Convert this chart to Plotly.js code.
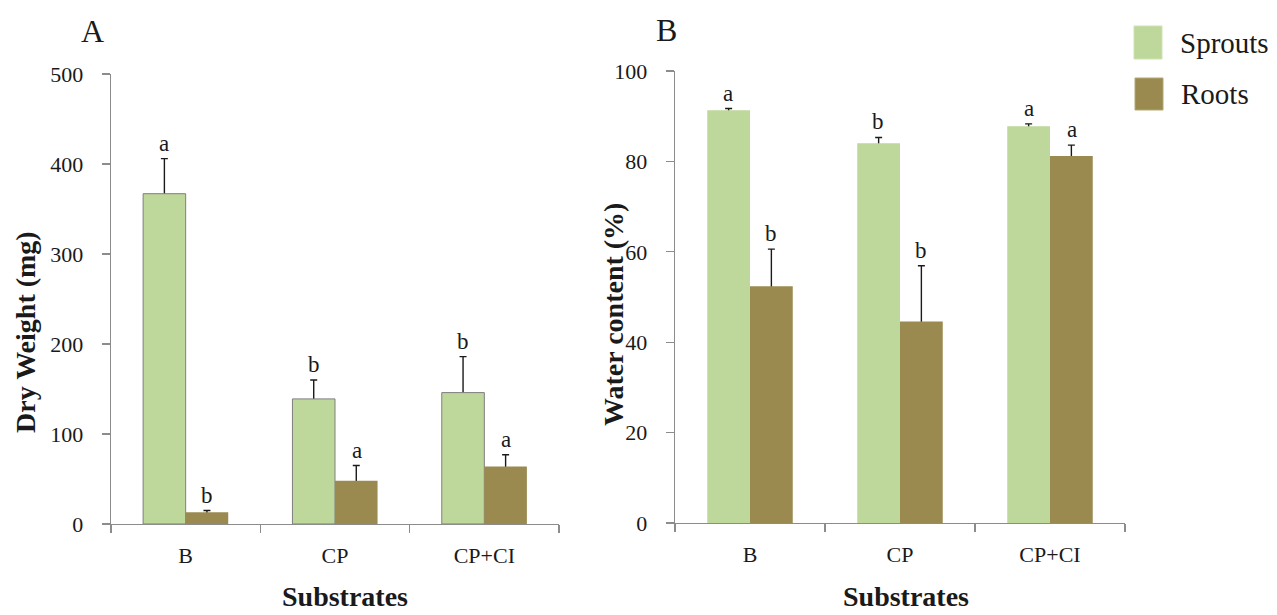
<!DOCTYPE html>
<html>
<head>
<meta charset="utf-8">
<script src="https://cdn.plot.ly/plotly-3.0.1.min.js"></script>
<style>html,body{margin:0;padding:0;background:#fff;}#chart{width:1277px;height:615px;}</style>
</head>
<body>
<div id="chart"></div>
<script>
// ---- data ----
const categories = ["B", "CP", "CP+CI"];
const seriesNames = ["Sprouts", "Roots"];

// Panel A: Dry weight (mg)
const dryWeightSprouts = [367, 139, 146];
const dryWeightSproutsErr = [39, 21, 40];
const dryWeightRoots = [13, 48, 64];
const dryWeightRootsErr = [2, 17, 13];
const dryWeightSproutsLetters = ["a", "b", "b"];
const dryWeightRootsLetters = ["b", "a", "a"];

// Panel B: Water content (%)
const waterSprouts = [91.3, 84.0, 87.8];
const waterSproutsErr = [0.4, 1.3, 0.5];
const waterRoots = [52.4, 44.6, 81.2];
const waterRootsErr = [8.2, 12.3, 2.4];
const waterSproutsLetters = ["a", "b", "a"];
const waterRootsLetters = ["b", "b", "a"];

const yTicksA = [0, 100, 200, 300, 400, 500];
const yTicksB = [0, 20, 40, 60, 80, 100];

// ---- styles ----
const W = 1277, H = 615;
const FONT = "Liberation Serif, Times New Roman, serif";
const cSprouts = "#BED79A";
const cRoots = "#9A8A4F";
const axisGrey = "#8c8c8c";
const txt = "#1a1a1a";

function px(x) { return x / W; }
function py(y) { return 1 - y / H; }

// Bar drawn on top of an (invisible) bar that carries the upward error bar;
// the error bar's lower cap is hidden inside the real bar.
function errTrace(y, err, xa, ya, group, hide) {
  return {
    type: "bar", x: categories, y: y.map(v => v - hide), xaxis: xa, yaxis: ya,
    offsetgroup: group,
    marker: { color: "rgba(0,0,0,0)", line: { width: 0 } },
    error_y: { type: "data", symmetric: false, array: err.map(e => e + hide), arrayminus: err.map(() => 0),
               color: "#1a1a1a", thickness: 1.4, width: 3.5 },
    showlegend: false, hoverinfo: "skip"
  };
}
function bar(name, y, color, xa, ya, group, outline) {
  return {
    type: "bar", name: name, x: categories, y: y, xaxis: xa, yaxis: ya,
    offsetgroup: group,
    marker: { color: color, line: { color: outline ? "#7f7f7f" : color, width: outline ? 1 : 0 } },
    showlegend: false, hoverinfo: "x+y"
  };
}

const data = [
  errTrace(dryWeightSprouts, dryWeightSproutsErr, "x", "y", "s", 4),
  errTrace(dryWeightRoots, dryWeightRootsErr, "x", "y", "r", 4),
  errTrace(waterSprouts, waterSproutsErr, "x2", "y2", "s", 1.5),
  errTrace(waterRoots, waterRootsErr, "x2", "y2", "r", 1.5),
  bar(seriesNames[0], dryWeightSprouts, cSprouts, "x", "y", "s", true),
  bar(seriesNames[1], dryWeightRoots, cRoots, "x", "y", "r", false),
  bar(seriesNames[0], waterSprouts, cSprouts, "x2", "y2", "s", false),
  bar(seriesNames[1], waterRoots, cRoots, "x2", "y2", "r", false)
];

const annotations = [];
function letters(vals, errs, lets, xref, yref, shift) {
  vals.forEach((v, i) => {
    annotations.push({
      x: categories[i], y: v + errs[i], xref: xref, yref: yref,
      xshift: shift, yshift: 1, yanchor: "bottom", xanchor: "center",
      text: lets[i], showarrow: false, font: { family: FONT, size: 23, color: txt }
    });
  });
}
letters(dryWeightSprouts, dryWeightSproutsErr, dryWeightSproutsLetters, "x", "y", -21.5);
letters(dryWeightRoots, dryWeightRootsErr, dryWeightRootsLetters, "x", "y", 21.5);
letters(waterSprouts, waterSproutsErr, waterSproutsLetters, "x2", "y2", -21.5);
letters(waterRoots, waterRootsErr, waterRootsLetters, "x2", "y2", 21.5);

function paperText(text, x, y, size, angle) {
  annotations.push({
    xref: "paper", yref: "paper", x: px(x), y: py(y), xanchor: "center", yanchor: "middle",
    text: text, showarrow: false, textangle: angle || 0,
    font: { family: FONT, size: size, color: txt }
  });
}
// panel letters
paperText("A", 92.5, 31, 32);
paperText("B", 667, 30, 32);
// axis titles
paperText("<b>Dry Weight (mg)</b>", 25, 332, 28, -90);
paperText("<b>Water content (%)</b>", 613, 315, 28, -90);
paperText("<b>Substrates</b>", 344.5, 596, 28);
paperText("<b>Substrates</b>", 906, 596, 28);
// legend labels
annotations.push({ xref: "paper", yref: "paper", x: px(1178), y: py(43), xanchor: "left", yanchor: "middle",
  text: seriesNames[0], showarrow: false, font: { family: FONT, size: 29, color: txt } });
annotations.push({ xref: "paper", yref: "paper", x: px(1179), y: py(94), xanchor: "left", yanchor: "middle",
  text: seriesNames[1], showarrow: false, font: { family: FONT, size: 29, color: txt } });

const shapes = [
  { type: "rect", xref: "paper", yref: "paper", x0: px(1134), x1: px(1162), y0: py(59), y1: py(26),
    fillcolor: cSprouts, line: { color: "#cfe3b3", width: 1 } },
  { type: "rect", xref: "paper", yref: "paper", x0: px(1135), x1: px(1163), y0: py(110), y1: py(78),
    fillcolor: cRoots, line: { color: "#b3a776", width: 1 } }
];

function xAxis(d0, d1) {
  return {
    domain: [px(d0), px(d1)], type: "category", range: [-0.5, 2.5],
    showline: true, linecolor: axisGrey, linewidth: 1.3,
    ticks: "outside", tickson: "boundaries", ticklen: 8, tickcolor: axisGrey, tickwidth: 1.3,
    showgrid: false, zeroline: false, fixedrange: true,
    tickfont: { family: FONT, size: 22, color: txt }, ticklabelstandoff: 11
  };
}
function yAxis(d0, d1, range, ticks, anchor) {
  return {
    domain: [py(d0), py(d1)], range: range, tickvals: ticks, ticktext: ticks.map(String),
    showline: true, linecolor: axisGrey, linewidth: 1.3,
    ticks: "outside", ticklen: 8, tickcolor: axisGrey, tickwidth: 1.3,
    showgrid: false, zeroline: false, fixedrange: true, anchor: anchor,
    tickfont: { family: FONT, size: 22, color: txt }, ticklabelstandoff: 14
  };
}

const layout = {
  width: W, height: H,
  margin: { l: 0, r: 0, t: 0, b: 0, pad: 0 },
  paper_bgcolor: "#ffffff", plot_bgcolor: "#ffffff",
  barmode: "group", bargap: 0.43, bargroupgap: 0,
  showlegend: false,
  xaxis: Object.assign(xAxis(111, 559), { anchor: "y" }),
  yaxis: yAxis(524, 74, [0, 500], yTicksA, "x"),
  xaxis2: Object.assign(xAxis(675, 1125), { anchor: "y2" }),
  yaxis2: yAxis(523, 71, [0, 100], yTicksB, "x2"),
  annotations: annotations,
  shapes: shapes,
  font: { family: FONT }
};

Plotly.newPlot("chart", data, layout, { displayModeBar: false, staticPlot: true });
</script>
</body>
</html>
